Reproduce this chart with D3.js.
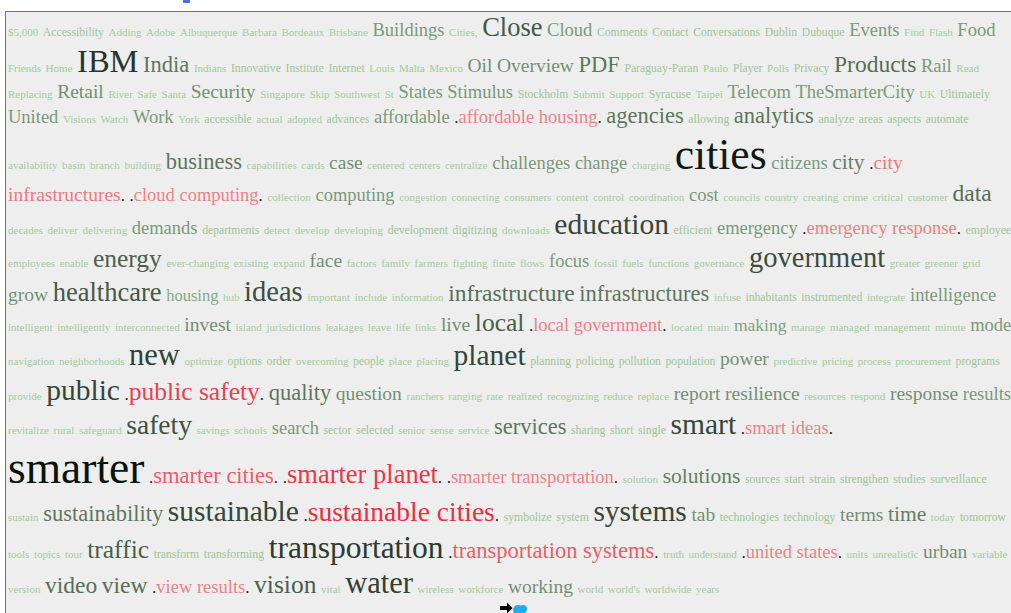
<!DOCTYPE html>
<html>
<head>
<meta charset="utf-8">
<script src="https://cdn.jsdelivr.net/npm/d3@7"></script>
<style>
  html, body { margin: 0; padding: 0; background: #fff; overflow: hidden; }
</style>
</head>
<body>
<div id="cloud"></div>
<script>
// tags, line by line as they read in the cloud
const tagLines = [
  ["$5,000","Accessibility","Adding","Adobe","Albuquerque","Barbara","Bordeaux","Brisbane","Buildings","Cities,","Close","Cloud","Comments","Contact","Conversations","Dublin","Dubuque","Events","Find","Flash","Food"],
  ["Friends","Home","IBM","India","Indians","Innovative","Institute","Internet","Louis","Malta","Mexico","Oil","Overview","PDF","Paraguay-Paran","Paulo","Player","Polls","Privacy","Products","Rail","Read"],
  ["Replacing","Retail","River","Safe","Santa","Security","Singapore","Skip","Southwest","St","States","Stimulus","Stockholm","Submit","Support","Syracuse","Taipei","Telecom","TheSmarterCity","UK","Ultimately"],
  ["United","Visions","Watch","Work","York","accessible","actual","adopted","advances","affordable","affordable housing","agencies","allowing","analytics","analyze","areas","aspects","automate"],
  ["availability","basin","branch","building","business","capabilities","cards","case","centered","centers","centralize","challenges","change","charging","cities","citizens","city","city infrastructures"],
  ["cloud computing","collection","computing","congestion","connecting","consumers","content","control","coordination","cost","councils","country","creating","crime","critical","customer","data"],
  ["decades","deliver","delivering","demands","departments","detect","develop","developing","development","digitizing","downloads","education","efficient","emergency","emergency response","employee"],
  ["employees","enable","energy","ever-changing","existing","expand","face","factors","family","farmers","fighting","finite","flows","focus","fossil","fuels","functions","governance","government","greater","greener","grid"],
  ["grow","healthcare","housing","hub","ideas","important","include","information","infrastructure","infrastructures","infuse","inhabitants","instrumented","integrate","intelligence"],
  ["intelligent","intelligently","interconnected","invest","island","jurisdictions","leakages","leave","life","links","live","local","local government","located","main","making","manage","managed","management","minute","mode"],
  ["navigation","neighborhoods","new","optimize","options","order","overcoming","people","place","placing","planet","planning","policing","pollution","population","power","predictive","pricing","process","procurement","programs"],
  ["provide","public","public safety","quality","question","ranchers","ranging","rate","realized","recognizing","reduce","replace","report","resilience","resources","respond","response","results"],
  ["revitalize","rural","safeguard","safety","savings","schools","search","sector","selected","senior","sense","service","services","sharing","short","single","smart","smart ideas"],
  ["smarter","smarter cities","smarter planet","smarter transportation","solution","solutions","sources","start","strain","strengthen","studies","surveillance"],
  ["sustain","sustainability","sustainable","sustainable cities","symbolize","system","systems","tab","technologies","technology","terms","time","today","tomorrow"],
  ["tools","topics","tour","traffic","transform","transforming","transportation","transportation systems","truth","understand","united states","units","unrealistic","urban","variable"],
  ["version","video","view","view results","vision","vital","water","wireless","workforce","working","world","world's","worldwide","years"]
];

// multi-word phrases (drawn in red)
const phrases = [
  "affordable housing","city infrastructures","cloud computing","emergency response","local government","public safety",
  "smart ideas","smarter cities","smarter planet","smarter transportation","sustainable cities","transportation systems",
  "united states","view results"
];

// tags seen twice (all tags not listed anywhere: once)
const twiceTags = [
  "Accessibility","Comments","Contact","Conversations","Dublin","Dubuque",
  "Innovative","Institute","Internet","Paraguay-Paran","Player","Privacy",
  "Stockholm","Syracuse","Ultimately",
  "accessible","advances","allowing","analyze","areas","aspects","automate",
  "departments","development","digitizing","efficient","employee",
  "inhabitants","instrumented",
  "options","order","people","planning","policing","pollution","population","programs",
  "sector","selected","sharing","short","single",
  "sources","start","strain","strengthen","studies","surveillance",
  "symbolize","system","technologies","technology","tomorrow",
  "transform","transforming"
];

// frequent tags and their counts
const weightedTags = [
  "Buildings","Close","Cloud","Events","Food",
  "IBM","India","Oil","Overview","PDF","Products","Rail",
  "Retail","Security","States","Stimulus","Telecom","TheSmarterCity",
  "United","Work","affordable","affordable housing","agencies","analytics",
  "business","case","challenges","change","cities","citizens","city","city infrastructures",
  "cloud computing","computing","cost","data",
  "demands","education","emergency","emergency response",
  "energy","face","focus","government",
  "grow","healthcare","housing","ideas","infrastructure","infrastructures","intelligence",
  "invest","live","local","local government","making","mode",
  "new","planet","power",
  "public","public safety","quality","question","report","resilience","response","results",
  "safety","search","services","smart","smart ideas",
  "smarter","smarter cities","smarter planet","smarter transportation","solutions",
  "sustainability","sustainable","sustainable cities","systems","tab","terms","time",
  "traffic","transportation","transportation systems","united states","urban",
  "video","view","view results","vision","water","working"
];
const weights = [
  8,16,8,8,8,
  22,12,9,9,12,13,8,
  9,9,8,8,8,8,
  8,8,8,8,12,12,
  12,9,8,8,33,8,11,9,
  8,8,8,13,
  8,19,8,8,
  15,9,8,18,
  9,16,6,18,13,12,8,
  9,9,15,8,7,8,
  20,19,9,
  19,15,12,9,9,9,9,8,
  17,8,12,19,8,
  35,12,16,8,11,
  12,19,17,19,9,9,11,
  15,21,12,8,9,
  13,13,8,15,20,9
];

const W = 1011, H = 613;
const FONT = "'Liberation Serif', 'Times New Roman', serif";
const padL = 8, padR = 1018, padT = 11;
const asc = 0.929, desc = 0.235;
const tagGap = 4.6, dotSize = 17, dotFill = "#1c1c1c";

const countOf = t => {
  const i = weightedTags.indexOf(t);
  if (i >= 0) return weights[i];
  return twiceTags.includes(t) ? 2 : 1;
};
const size = d3.scaleLinear().domain([1, 2, 3, 36]).range([11.0, 11.7, 13.5, 46.5]);
const green = d3.scaleLinear()
  .domain([1, 8, 14, 22, 35])
  .range(["#a3cc9b", "#7b997a", "#4f654f", "#27352a", "#091409"]);
const red = d3.scaleLinear().domain([7, 17]).range(["#ee8a8f", "#e8303c"]).clamp(true);

const svg = d3.select("#cloud").append("svg")
  .attr("width", W).attr("height", H)
  .style("display", "block");

// page + panel
svg.append("rect").attr("width", W).attr("height", H).attr("fill", "#fff");
svg.append("rect").attr("x", 5).attr("y", 11).attr("width", W).attr("height", H).attr("fill", "#eeeeee");
svg.append("line").attr("x1", 5).attr("x2", W).attr("y1", 11.5).attr("y2", 11.5).attr("stroke", "#3c9a3c");
svg.append("line").attr("x1", 5.5).attr("x2", 5.5).attr("y1", 11).attr("y2", H).attr("stroke", "#3c9a3c");
svg.append("rect").attr("x", 183).attr("y", 0).attr("width", 7).attr("height", 3).attr("fill", "#4a6ef0");

// measure text
const meas = svg.append("text").attr("font-family", FONT).attr("visibility", "hidden");
function textW(str, fs) {
  meas.attr("font-size", fs).text(str);
  return meas.node().getComputedTextLength();
}

// build unbreakable boxes
const boxes = [];
tagLines.forEach(line => line.forEach((t, k) => {
  const c = countOf(t), fs = size(c);
  const first = k === 0;
  if (phrases.includes(t)) {
    const parts = t.split(" ");
    parts.forEach((p, j) => {
      const runs = [];
      if (j === 0) runs.push({ text: ".", fs: dotSize, fill: dotFill });
      runs.push({ text: p, fs: fs, fill: red(c) });
      if (j === parts.length - 1) runs.push({ text: ".", fs: dotSize, fill: dotFill });
      boxes.push({ runs, fs, gap: j === 0 ? tagGap : fs * 0.25, breakBefore: first && j === 0 });
    });
  } else {
    boxes.push({ runs: [{ text: t, fs: fs, fill: green(c) }], fs, gap: tagGap, breakBefore: first });
  }
}));
boxes.forEach(b => b.w = d3.sum(b.runs, r => textW(r.text, r.fs)));
meas.remove();

// lay out: a new line at each cloud line, plus wrapping of anything running past the edge
const lines = [];
let cur = null, cx = padL;
boxes.forEach(b => {
  let newLine;
  if (!cur) newLine = true;
  else if (b.breakBefore) newLine = !cur.carry;
  else newLine = cx + b.gap + b.w > padR;
  if (newLine) {
    cur = { boxes: [], carry: !b.breakBefore };
    lines.push(cur);
    b.x = padL;
  } else {
    b.x = cx + b.gap;
    if (b.breakBefore) cur.carry = false;
  }
  cx = b.x + b.w;
  cur.boxes.push(b);
});

let cy = padT, prevM = 0;
lines.forEach((l, i) => {
  const m = d3.max(l.boxes, b => b.fs);
  l.base = i === 0 ? cy + asc * m : cy + desc * prevM + asc * m;
  cy = l.base;
  prevM = m;
  l.boxes.forEach(b => b.y = l.base);
});

const g = svg.append("g").attr("font-family", FONT);
const texts = g.selectAll("text.tag").data(boxes).join("text")
  .attr("class", "tag")
  .attr("x", d => d.x)
  .attr("y", d => d.y);
texts.selectAll("tspan").data(d => d.runs).join("tspan")
  .attr("font-size", r => r.fs)
  .attr("fill", r => r.fill)
  .text(r => r.text);

// small icons at the bottom
svg.append("path")
  .attr("d", "M500,606 h7 v-3.5 l5.5,5.5 l-5.5,5.5 v-3.5 h-7 z")
  .attr("fill", "#000");
svg.append("circle").attr("cx", 518).attr("cy", 610).attr("r", 5).attr("fill", "#1aaef0");
svg.append("circle").attr("cx", 523).attr("cy", 609).attr("r", 4).attr("fill", "#1aaef0");
</script>
</body>
</html>
